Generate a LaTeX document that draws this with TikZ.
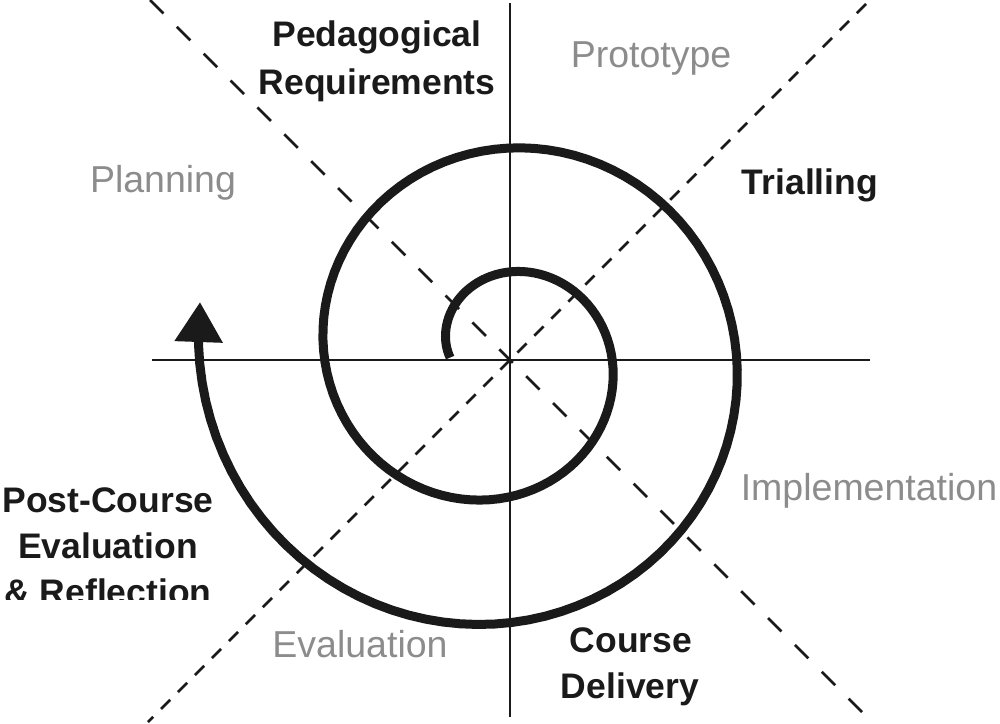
\documentclass[tikz,border=0pt]{standalone}
\usepackage{fontspec}
\setmainfont{Liberation Sans}
\usetikzlibrary{arrows.meta}
\definecolor{inkblack}{RGB}{26,26,26}
\definecolor{phasegray}{RGB}{140,140,140}
\tikzset{
  phase/.style={anchor=base, inner sep=0pt, text=phasegray, font=\fontsize{37.5}{40}\selectfont},
  stage/.style={anchor=base, inner sep=0pt, text=inkblack, font=\fontsize{35.5}{40}\selectfont\bfseries},
  axis/.style={draw=inkblack, line width=2.5pt},
  longdash/.style={draw=inkblack, line width=2.8pt, dash pattern=on 19pt off 19pt},
  shortdash/.style={draw=inkblack, line width=2.8pt, dash pattern=on 13pt off 11pt},
  spiral/.style={draw=inkblack, line width=9pt, line join=round, -{Triangle[length=40pt,width=46pt]}}
}
\begin{document}
\begin{tikzpicture}[x=1pt,y=-1pt]
\useasboundingbox (0,0) rectangle (1000,723);
% axes
\coordinate (west) at (152,360);
\coordinate (east) at (870,360);
\coordinate (north) at (510,3);
\coordinate (south) at (510,717);
\draw[axis] (west)--(east);
\draw[axis] (north)--(south);
% diagonals
\coordinate (nw) at (150,0);
\coordinate (se) at (868,718);
\coordinate (ne) at (866,4);
\coordinate (sw) at (148,722);
\draw[longdash] (nw)--(se);
\draw[shortdash] (ne)--(sw);
% spiral
\coordinate (tip) at (200,302);
\draw[spiral] plot[domain=-3:722,samples=200,variable=\t]
  ({499+(50+0.3472*\t)*cos(180-\t)},{355-(50+0.3472*\t)*sin(180-\t)}) -- (tip);
% labels
\node[stage] (ped1) at (377,46) {Pedagogical};
\node[stage] (ped2) at (377,94) {Requirements};
\node[phase] (proto) at (651,67) {Prototype};
\node[phase] (plan) at (163,192) {Planning};
\node[stage] (trial) at (810,194) {Trialling};
\node[phase] (impl) at (869,500) {Implementation};
\node[stage] (post1) at (108,512) {Post-Course};
\node[stage] (post2) at (108,558) {Evaluation};
\begin{scope}
  \clip (0,560) rectangle (300,599);
  \node[stage] (post3) at (108,604) {\& Reflection};
\end{scope}
\node[phase] (eval) at (360,657) {Evaluation};
\node[stage] (deliv1) at (631,652) {Course};
\node[stage] (deliv2) at (630,698) {Delivery};
\end{tikzpicture}
\end{document}
